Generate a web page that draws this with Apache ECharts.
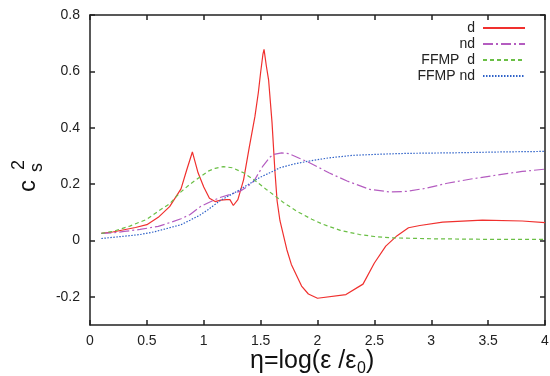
<!DOCTYPE html>
<html>
<head>
<meta charset="utf-8">
<script src="https://cdn.jsdelivr.net/npm/echarts@6/dist/echarts.min.js"></script>
<style>html,body{margin:0;padding:0;background:#fff}#c{width:550px;height:376px}</style>
</head>
<body>
<div id="c"></div>
<script>
var seriesNames = ['d', 'nd', 'FFMP  d', 'FFMP nd'];
var xTicks = [0, 0.5, 1, 1.5, 2, 2.5, 3, 3.5, 4];
var yTicks = [-0.2, 0, 0.2, 0.4, 0.6, 0.8];

var dX = [0.1,0.2,0.3,0.4,0.5,0.6,0.7,0.8,0.85,0.9,0.95,1.0,1.05,1.1,1.15,1.2,1.23,1.26,1.3,1.35,1.4,1.45,1.48,1.5,1.52,1.53,1.55,1.57,1.6,1.625,1.645,1.67,1.73,1.77,1.86,1.92,2.0,2.25,2.4,2.5,2.6,2.7,2.8,2.9,3.1,3.45,3.8,4.0];
var dY = [0.025,0.03,0.038,0.046,0.056,0.082,0.12,0.183,0.25,0.314,0.24,0.19,0.15,0.138,0.143,0.145,0.145,0.124,0.145,0.215,0.33,0.44,0.525,0.596,0.66,0.678,0.62,0.57,0.42,0.25,0.14,0.07,-0.032,-0.085,-0.162,-0.19,-0.205,-0.192,-0.155,-0.08,-0.02,0.017,0.045,0.053,0.065,0.072,0.069,0.063];

var ndX = [0.1,0.2,0.3,0.44,0.6,0.7,0.8,0.88,0.97,1.04,1.14,1.23,1.32,1.38,1.44,1.52,1.58,1.61,1.685,1.75,1.85,1.93,2.1,2.26,2.46,2.64,2.78,2.95,3.14,3.35,3.575,3.8,4.0];
var ndY = [0.025,0.027,0.032,0.039,0.05,0.063,0.077,0.092,0.12,0.134,0.152,0.163,0.175,0.19,0.21,0.264,0.295,0.305,0.311,0.308,0.29,0.276,0.24,0.211,0.181,0.172,0.174,0.185,0.203,0.218,0.232,0.245,0.253];

var fdX = [0.1,0.2,0.35,0.5,0.615,0.7,0.79,0.88,0.967,1.04,1.1,1.17,1.25,1.35,1.45,1.55,1.61,1.7,1.817,1.95,2.05,2.2,2.37,2.5,2.64,3.0,3.5,4.0];
var fdY = [0.025,0.032,0.051,0.075,0.108,0.13,0.169,0.2,0.225,0.246,0.256,0.262,0.258,0.24,0.213,0.181,0.163,0.135,0.104,0.075,0.057,0.036,0.021,0.014,0.0095,0.006,0.004,0.0036];

var fndX = [0.1,0.2,0.3,0.44,0.57,0.7,0.8,0.88,0.967,1.04,1.14,1.32,1.49,1.58,1.67,1.8,1.93,2.1,2.31,2.55,2.78,3.2,3.6,4.0];
var fndY = [0.007,0.011,0.015,0.021,0.031,0.045,0.056,0.072,0.09,0.11,0.14,0.181,0.223,0.24,0.258,0.272,0.282,0.293,0.302,0.306,0.309,0.311,0.314,0.316];

function pairs(xs, ys) { return xs.map(function (x, i) { return [x, ys[i]]; }); }

var colors = ['#f0302e', '#b45cc0', '#6abf45', '#2f62c8'];
var dashes = ['solid', [10, 3, 2, 3], [4, 3], [1.5, 1.5]];
var datasets = [pairs(dX, dY), pairs(ndX, ndY), pairs(fdX, fdY), pairs(fndX, fndY)];

var FONT = 'Liberation Sans';
var chart = echarts.init(document.getElementById('c'), null, {renderer: 'canvas'});

var axisLineStyle = {color: '#222', width: 1.5};
var series = seriesNames.map(function (n, i) {
  return {
    name: n, type: 'line', data: datasets[i], symbol: 'none', showSymbol: false,
    smooth: false, animation: false, clip: true,
    lineStyle: {color: colors[i], width: 1.2, type: dashes[i]},
    itemStyle: {color: colors[i]}
  };
});

var legends = seriesNames.map(function (n, i) {
  return {
    data: [n], orient: 'vertical', right: 24, top: 21 + i * 16, padding: 0,
    align: 'right', itemWidth: 42, itemHeight: 14, selectedMode: false,
    itemStyle: {opacity: 0},
    textStyle: {fontFamily: FONT, fontSize: 14, color: '#222', padding: [0, 3, 0, 0]}
  };
});

function txt(x, y, s, size) {
  return {type: 'text', x: x, y: y - 0.35 * size,
    style: {text: s, fontFamily: FONT, fontSize: size, fill: '#111', verticalAlign: 'middle', align: 'left'}};
}

chart.setOption({
  animation: false,
  color: colors,
  grid: {left: 90, right: 5, top: 15, bottom: 51, outerBoundsMode: 'none'},
  legend: legends,
  xAxis: [{
    type: 'value', min: 0, max: 4, interval: 0.5, position: 'bottom',
    axisLine: {show: true, onZero: false, lineStyle: axisLineStyle},
    axisTick: {show: true, inside: true, length: 5, lineStyle: axisLineStyle},
    axisLabel: {fontFamily: FONT, fontSize: 14, color: '#222', margin: 9,
      customValues: xTicks},
    splitLine: {show: false}
  }, {
    type: 'value', min: 0, max: 4, interval: 0.5, position: 'top',
    axisLine: {show: true, onZero: false, lineStyle: axisLineStyle},
    axisTick: {show: true, inside: true, length: 5, lineStyle: axisLineStyle},
    axisLabel: {show: false}, splitLine: {show: false}
  }],
  yAxis: [{
    type: 'value', min: -0.3, max: 0.8, interval: 0.1, position: 'left',
    axisLine: {show: true, onZero: false, lineStyle: axisLineStyle},
    axisTick: {show: true, inside: true, length: 5, lineStyle: axisLineStyle, customValues: yTicks},
    axisLabel: {fontFamily: FONT, fontSize: 14, color: '#222', margin: 10, customValues: yTicks,
      formatter: function (v) { return String(+(+v).toFixed(1)); }},
    splitLine: {show: false}
  }, {
    type: 'value', min: -0.3, max: 0.8, interval: 0.1, position: 'right',
    axisLine: {show: true, onZero: false, lineStyle: axisLineStyle},
    axisTick: {show: true, inside: true, length: 5, lineStyle: axisLineStyle, customValues: yTicks},
    axisLabel: {show: false}, splitLine: {show: false}
  }],
  graphic: [
    {
      type: 'group', x: 37, y: 192, rotation: Math.PI / 2,
      children: [
        txt(0, 0, 'c', 24),
        txt(20, 6, 's', 18),
        txt(22, -12, '2', 18)
      ]
    },
    {
      type: 'group', x: 250, y: 370,
      children: [
        txt(0, 0, 'η=log(ε /ε', 25),
        txt(107, 4, '0', 16),
        txt(116, 0, ')', 25)
      ]
    }
  ],
  series: series
});
</script>
</body>
</html>
